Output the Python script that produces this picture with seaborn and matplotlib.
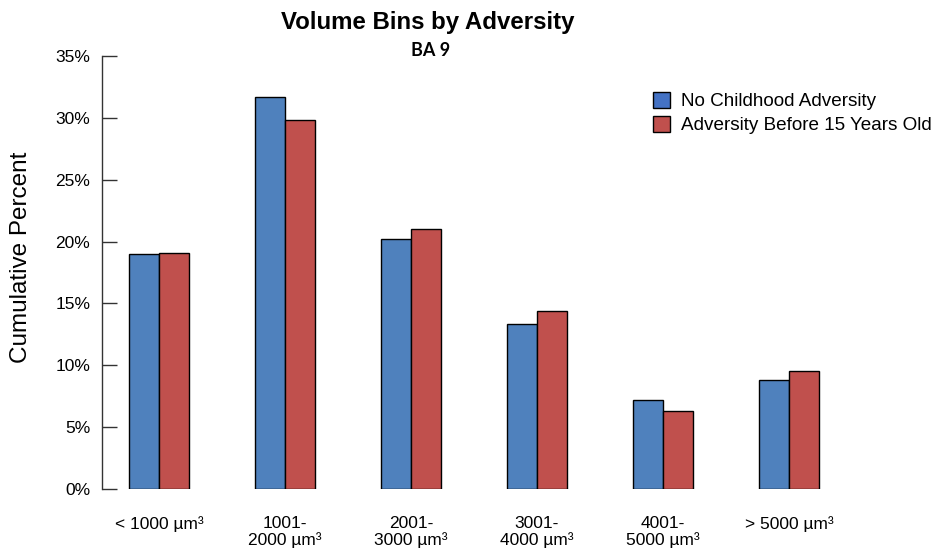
import matplotlib
matplotlib.use("Agg")
import matplotlib.pyplot as plt
import seaborn as sns
import pandas as pd
from matplotlib.patches import Patch
from matplotlib.ticker import FuncFormatter

categories = ["< 1000 µm³", "1001-\n2000 µm³", "2001-\n3000 µm³",
              "3001-\n4000 µm³", "4001-\n5000 µm³", "> 5000 µm³"]
no_adversity = [19.0, 31.7, 20.2, 13.3, 7.2, 8.8]
adversity = [19.1, 29.8, 21.0, 14.4, 6.3, 9.5]
series_names = ["No Childhood Adversity", "Adversity Before 15 Years Old"]
colors = ["#4F81BD", "#C0504D"]
legend_colors = ["#4472C4", "#C0504D"]

df = pd.DataFrame({
    "bin": categories * 2,
    "pct": no_adversity + adversity,
    "group": [series_names[0]] * len(categories) + [series_names[1]] * len(categories),
})

sns.set_style("white")
plt.rcParams["font.family"] = ["Liberation Sans", "DejaVu Sans"]
plt.rcParams["text.color"] = "black"
plt.rcParams["axes.labelcolor"] = "black"
plt.rcParams["xtick.color"] = "black"
plt.rcParams["ytick.color"] = "black"

W, H = 935, 548
fig = plt.figure(figsize=(W / 100, H / 100), dpi=100)
ax = fig.add_axes([102 / W, (H - 489) / H, (870 - 102) / W, (489 - 56) / H])

sns.barplot(data=df, x="bin", y="pct", hue="group", order=categories,
            hue_order=series_names, palette=colors, saturation=1, width=0.476, gap=0,
            edgecolor="black", linewidth=1.0, ax=ax, legend=False)

ax.set_xlim(-0.452, 5.643)
ax.set_ylim(0, 35)
ax.set_yticks(range(0, 36, 5))
ax.yaxis.set_major_formatter(FuncFormatter(lambda v, p: f"{int(v)}%"))
for s in ["top", "right", "bottom"]:
    ax.spines[s].set_visible(False)
ax.spines["left"].set_color("#333333")
ax.spines["left"].set_linewidth(1.0)
ax.tick_params(axis="y", left=True, direction="in", length=11, width=1.0,
               color="#333333", labelsize=12.5, pad=8.5)
ax.tick_params(axis="x", bottom=False, labelsize=12.5, pad=16)
for lbl in ax.get_xticklabels():
    lbl.set_linespacing(1.05)
ax.set_xlabel("")
ax.set_ylabel("")

fig.text(21 / W, 1 - 257 / H, "Cumulative Percent", rotation=90, ha="center",
         va="center", fontsize=17.5)
fig.text(428 / W, 1 - 22 / H, "Volume Bins by Adversity", ha="center", va="center",
         fontsize=17.3, fontweight="bold")
fig.text(431 / W, 1 - 50 / H, "BA 9", ha="center", va="center",
         fontsize=13, fontweight="bold", family=["Lato", "DejaVu Sans"])

handles = [Patch(facecolor=c, edgecolor="black", linewidth=1.0) for c in legend_colors]
ax.legend(handles, series_names, loc="upper left", bbox_to_anchor=(653 / W, 1 - 92 / H),
          bbox_transform=fig.transFigure, frameon=False, fontsize=13.6,
          handlelength=0.9, handleheight=0.9, handletextpad=0.6, labelspacing=0.3,
          borderpad=0, borderaxespad=0)

fig.savefig("out.png", dpi=100)
